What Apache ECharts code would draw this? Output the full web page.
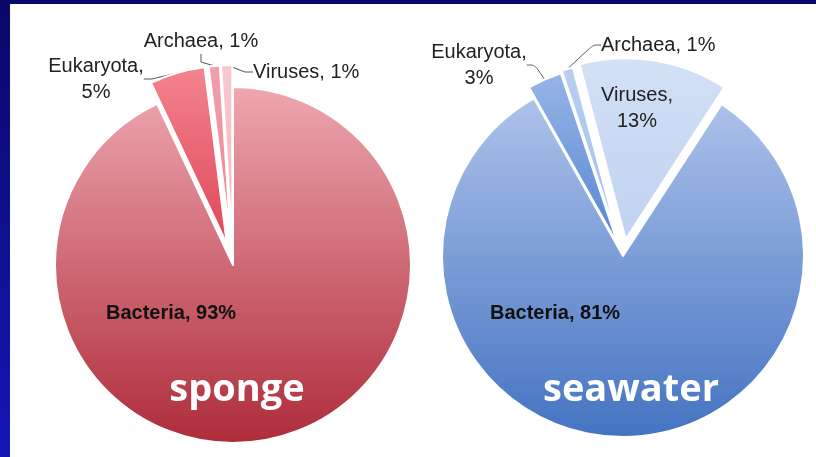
<!DOCTYPE html>
<html>
<head>
<meta charset="utf-8">
<script src="https://cdn.jsdelivr.net/npm/echarts/dist/echarts.min.js"></script>
<style>
html, body { margin: 0; padding: 0; }
body { background: linear-gradient(to bottom, #08086a, #1616b6); }
#chart { width: 816px; height: 457px; }
</style>
</head>
<body>
<div id="chart"></div>
<script>
// values (percent)
const taxa = ['Bacteria', 'Eukaryota', 'Archaea', 'Viruses'];
const spongeValues = [93, 5, 1, 1];
const seawaterValues = [81, 3, 1, 13];
const groupNames = ['sponge', 'seawater'];

// colours per slice: [top, bottom] of the vertical shading
const spongeColors = [
    ['#eea7b0', '#ae2c3a'],
    ['#f3848f', '#df4658'],
    ['#f09fab', '#ea8594'],
    ['#f7c9cf', '#f2b5be']
];
const seawaterColors = [
    ['#adc3ea', '#4473c2'],
    ['#97b5e6', '#5486d4'],
    ['#b9cff1', '#a3bfeb'],
    ['#d3e1f6', '#bfd2f0']
];

// how far each slice is pulled out of its pie (px)
const spongeExplode = [0, 22, 22, 22];
const seawaterExplode = [0, 12, 14, 17];

// where each label sits (the leader lines are worked out by echarts)
const labelPos = [
    [
        { x: 171, y: 313, align: 'center' },
        { x: 96, y: 79, align: 'center' },
        { x: 201, y: 41, align: 'center' },
        { x: 253, y: 72, align: 'left' }
    ],
    [
        { x: 555, y: 313, align: 'center' },
        { x: 479, y: 65, align: 'center' },
        { x: 601, y: 45, align: 'left' },
        { x: 637, y: 108, align: 'center' }
    ]
];

function shade(c) {
    return {
        type: 'linear', x: 0, y: 0, x2: 0, y2: 1,
        colorStops: [{ offset: 0, color: c[0] }, { offset: 1, color: c[1] }]
    };
}

function fmt(p) {
    const wrap = p.name === 'Eukaryota' || (p.name === 'Viruses' && p.value > 5);
    return p.name + ',' + (wrap ? '\n' : ' ') + p.value + '%';
}

// one series per slice, so each slice can be pulled out along its own mid angle
function sliceSeries(idx, k, values, colors, explode, center, radius, startAngle, insideIdx) {
    const total = values.reduce((a, b) => a + b, 0);
    const before = values.slice(0, k).reduce((a, b) => a + b, 0);
    const mid = (startAngle - (before + values[k] / 2) / total * 360) * Math.PI / 180;
    const cx = center[0] + explode[k] * Math.cos(mid);
    const cy = center[1] - explode[k] * Math.sin(mid);
    const inside = insideIdx.indexOf(k) >= 0;
    return {
        type: 'pie',
        center: [cx, cy],
        radius: radius,
        startAngle: startAngle,
        clockwise: true,
        avoidLabelOverlap: false,
        animation: false,
        silent: true,
        label: {
            show: true,
            formatter: fmt,
            fontFamily: '"Liberation Sans", Arial, sans-serif',
            fontSize: 20,
            lineHeight: 26,
            color: '#222'
        },
        labelLine: {
            show: true,
            length: 8,
            length2: 8,
            smooth: idx === 1 ? 0.3 : false,
            lineStyle: { color: '#555', width: 1 }
        },
        labelLayout: function (p) {
            const q = labelPos[idx][p.dataIndex];
            return { x: q.x, y: q.y, align: q.align, verticalAlign: 'middle' };
        },
        data: taxa.map((name, i) => ({
            name: name,
            value: values[i],
            itemStyle: i === k
                ? { color: shade(colors[i]), borderColor: '#fff', borderWidth: 2 }
                : { color: 'rgba(0,0,0,0)', borderWidth: 0 },
            label: i !== k ? { show: false }
                : (i === 0 ? { fontWeight: 'bold', color: '#111' } : {}),
            labelLine: { show: i === k && !inside }
        }))
    };
}

const series = [];
taxa.forEach((t, k) => {
    series.push(sliceSeries(0, k, spongeValues, spongeColors, spongeExplode, [233, 265], 178, 90, [0]));
});
taxa.forEach((t, k) => {
    series.push(sliceSeries(1, k, seawaterValues, seawaterColors, seawaterExplode, [623, 256], 181, 57, [0, 3]));
});

const chart = echarts.init(document.getElementById('chart'));
chart.setOption({
    animation: false,
    graphic: [
        { type: 'rect', z: -10, silent: true, shape: { x: 10, y: 4, width: 806, height: 453 }, style: { fill: '#fff' } },
        { type: 'text', z: 100, x: 237, y: 390, style: { text: groupNames[0], fill: '#fff', font: 'bold 38px "Open Sans"', align: 'center', verticalAlign: 'middle' } },
        { type: 'text', z: 100, x: 631, y: 390, style: { text: groupNames[1], fill: '#fff', font: 'bold 38px "Open Sans"', align: 'center', verticalAlign: 'middle' } }
    ],
    series: series
});
</script>
</body>
</html>
